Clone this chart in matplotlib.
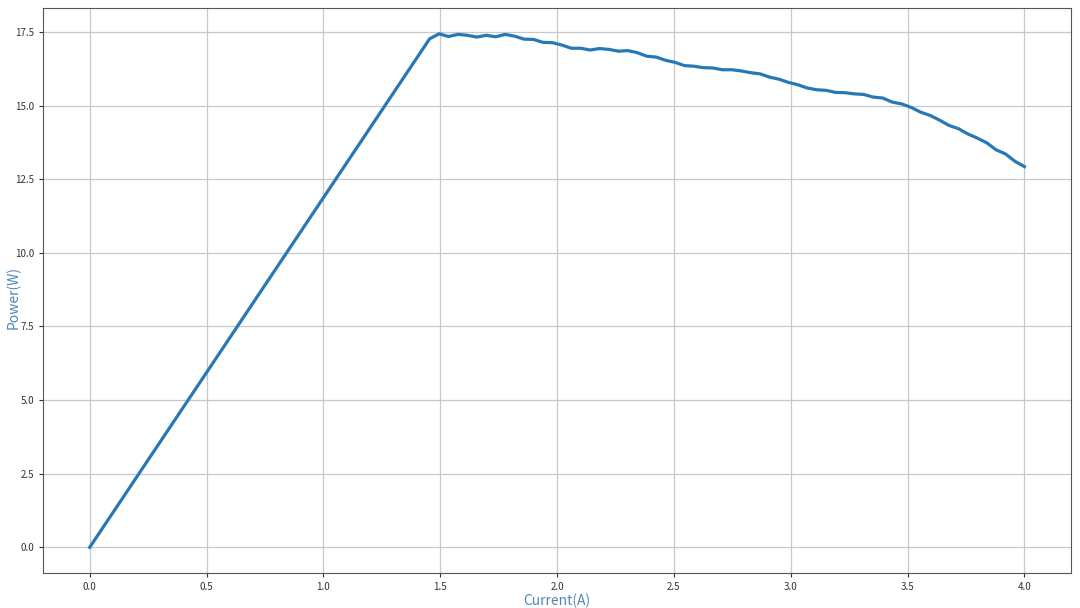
import matplotlib
matplotlib.use("Agg")
import matplotlib.pyplot as plt

# current (A) samples and measured power (W)
current = [0.0, 1.4545, 1.4949, 1.5354, 1.5758, 1.6162, 1.6566, 1.6970, 1.7374,
           1.7778, 1.8182, 1.8586, 1.8990, 1.9394, 1.9798, 2.0202, 2.0606, 2.1010,
           2.1414, 2.1818, 2.2222, 2.2626, 2.3030, 2.3434, 2.3838, 2.4242, 2.4646,
           2.5051, 2.5455, 2.5859, 2.6263, 2.6667, 2.7071, 2.7475, 2.7879, 2.8283,
           2.8687, 2.9091, 2.9495, 2.9899, 3.0303, 3.0707, 3.1111, 3.1515, 3.1919,
           3.2323, 3.2727, 3.3131, 3.3535, 3.3939, 3.4343, 3.4747, 3.5152, 3.5556,
           3.5960, 3.6364, 3.6768, 3.7172, 3.7576, 3.7980, 3.8384, 3.8788, 3.9192,
           3.9596, 4.0000]
power = [0.0, 17.27, 17.44, 17.35, 17.42, 17.39, 17.33, 17.39, 17.34, 17.42,
         17.36, 17.26, 17.25, 17.15, 17.14, 17.06, 16.95, 16.95, 16.89, 16.94,
         16.91, 16.85, 16.87, 16.80, 16.68, 16.65, 16.54, 16.47, 16.36, 16.34,
         16.29, 16.28, 16.22, 16.22, 16.18, 16.12, 16.08, 15.97, 15.90, 15.79,
         15.71, 15.60, 15.54, 15.52, 15.45, 15.44, 15.40, 15.38, 15.29, 15.26,
         15.12, 15.06, 14.94, 14.78, 14.67, 14.51, 14.33, 14.22, 14.04, 13.90,
         13.74, 13.50, 13.36, 13.11, 12.93]

plt.rcParams['font.family'] = ['Noto Sans CJK SC', 'DejaVu Sans']

fig = plt.figure(figsize=(10.8, 6.08), dpi=100)
ax = fig.add_axes([0.0398, 0.0576, 0.952, 0.929])
ax.plot(current, power, color="#2878b5", lw=2.3)
ax.grid(True, color="#c8c8c8", lw=0.9)
ax.set_axisbelow(True)
ax.set_xlabel("Current(A)", color="#4f86b6", fontsize=10)
ax.set_ylabel("Power(W)", color="#4f86b6", fontsize=10)
ax.xaxis.set_label_coords(0.5, -0.037)
ax.yaxis.set_label_coords(-0.022, 0.487)
ax.tick_params(labelsize=7, length=3, colors="#333333")
for s in ax.spines.values():
    s.set_color("#555555")
fig.savefig("out.png", dpi=100)
